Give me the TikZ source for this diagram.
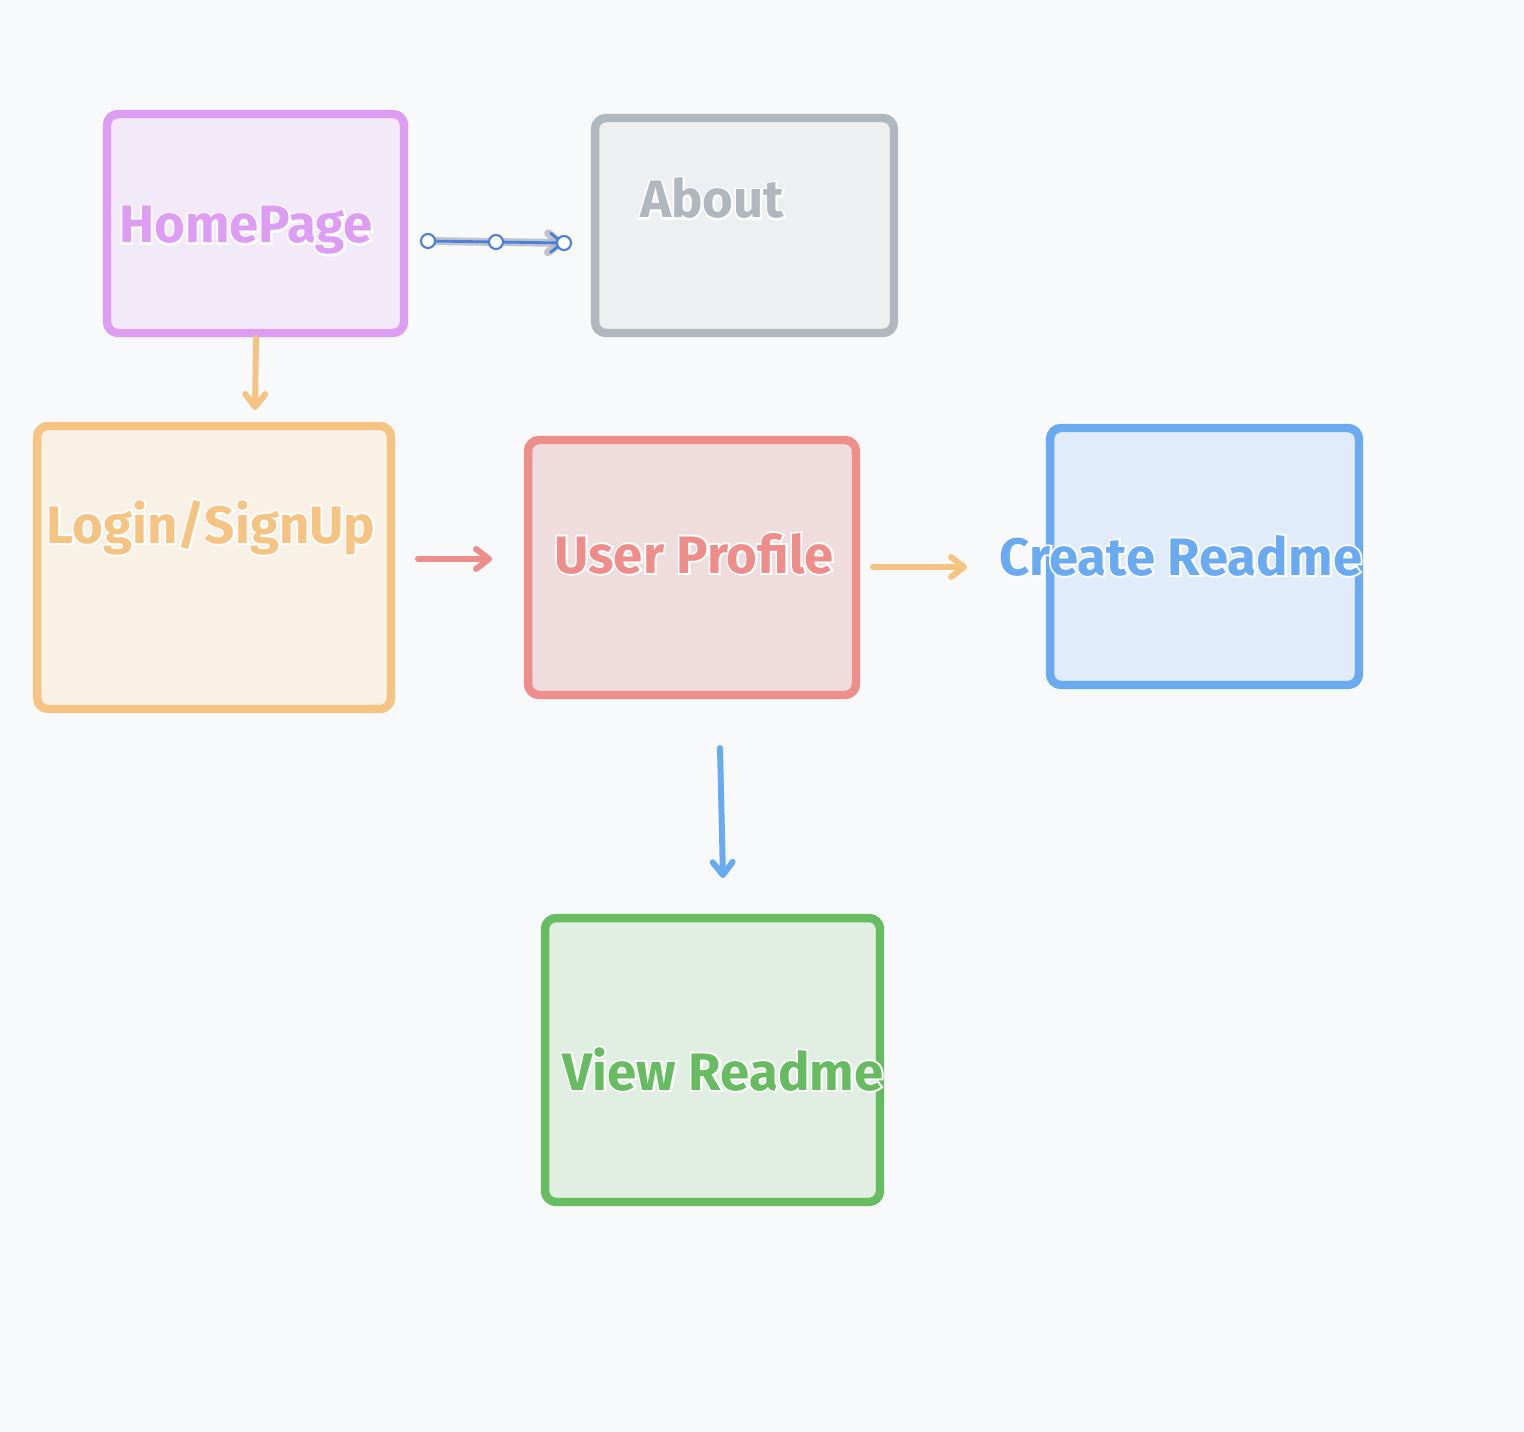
\documentclass[tikz,border=0pt]{standalone}
\usepackage{fontspec}
\setmainfont{Fira Sans}
\newfontfamily\halofont{Fira Sans}[FakeBold=7]
\usetikzlibrary{arrows.meta}

\definecolor{bgGrey}{HTML}{F8F9FB}
\definecolor{homeLine}{HTML}{DC9DF2}
\definecolor{homeFill}{HTML}{F3EAF9}
\definecolor{aboutLine}{HTML}{B1B7BF}
\definecolor{aboutFill}{HTML}{EDEFF1}
\definecolor{loginLine}{HTML}{F6C482}
\definecolor{loginFill}{HTML}{F9F0E6}
\definecolor{profileLine}{HTML}{EE8E8B}
\definecolor{profileFill}{HTML}{EFDCDD}
\definecolor{createLine}{HTML}{69AAF0}
\definecolor{createFill}{HTML}{E0ECF9}
\definecolor{viewLine}{HTML}{67BB61}
\definecolor{viewFill}{HTML}{E0EFE2}
\definecolor{pickBlue}{HTML}{4A7FDC}

\begin{document}
\begin{tikzpicture}[x=0.02cm, y=-0.02cm,
  box/.style n args={2}{draw=#1, fill=#2, line width=4.8pt, rounded corners=0.22cm, inner sep=0pt},
  label/.style={text=#1, font=\bfseries\fontsize{30}{36}\selectfont, inner sep=0pt, anchor=base},
  halo/.style={text=white, font=\halofont\bfseries\fontsize{30}{36}\selectfont, inner sep=0pt, anchor=base},
  flow/.style={draw=#1, line width=3.4pt, line cap=round,
    -{Straight Barb[length=2.6mm, width=4mm, line cap=round, line join=round]}}]
\fill[bgGrey] (0,0) rectangle (1524,1432);

% boxes
\node[box={homeLine}{homeFill}, minimum width=5.94cm, minimum height=4.38cm] (home) at (255.5,223.5) {};
\node[box={aboutLine}{aboutFill}, minimum width=5.98cm, minimum height=4.3cm] (about) at (744.5,225.5) {};
\node[box={loginLine}{loginFill}, minimum width=7.08cm, minimum height=5.66cm] (login) at (214,567.5) {};
\node[box={profileLine}{profileFill}, minimum width=6.56cm, minimum height=5.1cm] (profile) at (692,567.5) {};
\node[box={createLine}{createFill}, minimum width=6.18cm, minimum height=5.14cm] (create) at (1204.5,556.5) {};
\node[box={viewLine}{viewFill}, minimum width=6.7cm, minimum height=5.68cm] (view) at (712.5,1060) {};

% texts, white halo first
\node[halo] (homeHalo) at (246,243) {HomePage};
\node[halo] (aboutHalo) at (712,218) {About};
\node[halo] (loginHalo) at (211,543) {Login/SignUp};
\node[halo] (profileHalo) at (694,573) {User Profile};
\node[halo] (createHalo) at (1181,575) {Create Readme};
\node[halo] (viewHalo) at (723,1090) {View Readme};
\node[label=homeLine] (homeText) at (246,243) {HomePage};
\node[label=aboutLine] (aboutText) at (712,218) {About};
\node[label=loginLine] (loginText) at (211,543) {Login/SignUp};
\node[label=profileLine] (profileText) at (694,573) {User Profile};
\node[label=createLine] (createText) at (1181,575) {Create Readme};
\node[label=viewLine] (viewText) at (723,1090) {View Readme};

% arrow ends
\coordinate (homeOut) at (256,338);
\coordinate (loginIn) at (255,410);
\coordinate (loginOut) at (418,559);
\coordinate (profileIn) at (492,559);
\coordinate (profileOut) at (873,567);
\coordinate (createIn) at (967,567);
\coordinate (profileDown) at (720,748);
\coordinate (viewIn) at (723,878);
\coordinate (aboutStart) at (428,241);
\coordinate (aboutMid) at (496,242);
\coordinate (aboutEnd) at (564,243);

\draw[flow=loginLine] (homeOut) -- (loginIn);
\draw[flow=profileLine] (loginOut) -- (profileIn);
\draw[flow=loginLine] (profileOut) -- (createIn);
\draw[flow=createLine] (profileDown) -- (viewIn);

% selected arrow
\draw[aboutLine, opacity=0.8, line width=4.5pt, line cap=round,
  -{Straight Barb[length=2.4mm, width=3.8mm, line cap=round, line join=round]}] (aboutStart) -- (aboutEnd);
\draw[pickBlue, line width=1.6pt, line cap=round,
  -{Straight Barb[length=2.4mm, width=3.8mm, line cap=round, line join=round]}] (aboutStart) -- (aboutEnd);
\foreach \p in {aboutStart, aboutMid, aboutEnd}
  \draw[pickBlue, fill=white, line width=1.2pt] (\p) circle (7);
\end{tikzpicture}
\end{document}
